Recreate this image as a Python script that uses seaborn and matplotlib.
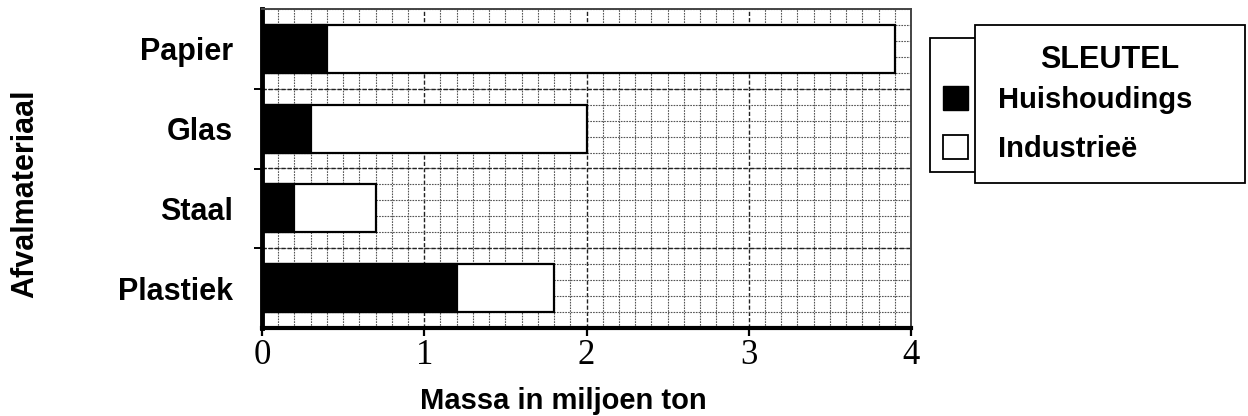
import numpy as np
import pandas as pd
import matplotlib
matplotlib.use("Agg")
import matplotlib.pyplot as plt
from matplotlib.patches import Patch, Rectangle
import seaborn as sns

categories = ['Papier', 'Glas', 'Staal', 'Plastiek']
huishoudings = [0.4, 0.3, 0.2, 1.2]
industriee = [3.5, 1.7, 0.5, 0.6]

df = pd.DataFrame({'materiaal': categories,
                   'huis': huishoudings,
                   'industrie': industriee})
df['totaal'] = df['huis'] + df['industrie']

sns.set_style('white')
plt.rcParams['font.family'] = ['Liberation Sans', 'DejaVu Sans']
plt.rcParams['text.color'] = 'black'
plt.rcParams['axes.labelcolor'] = 'black'
plt.rcParams['xtick.color'] = 'black'
plt.rcParams['ytick.color'] = 'black'

fig = plt.figure(figsize=(12.48, 4.16), dpi=100)
ax = fig.add_axes([262 / 1248, 1 - 328 / 416, 649 / 1248, 319 / 416])

# industry part drawn as full bar, household part on top
sns.barplot(data=df, x='totaal', y='materiaal', orient='h', color='white',
            edgecolor='black', linewidth=1.6, width=0.6, ax=ax, zorder=3)
sns.barplot(data=df, x='huis', y='materiaal', orient='h', color='black',
            edgecolor='black', linewidth=1.6, width=0.6, ax=ax, zorder=4)

n = len(categories)
ax.set_xlim(0, 4)
ax.set_ylim(n - 0.5, -0.5)

# graph paper grid
ax.set_xticks(np.arange(0, 5, 1))
ax.set_xticks(np.arange(0, 4.001, 0.1), minor=True)
ax.set_yticks(np.arange(-0.5, n - 0.5 + 0.001, 0.2), minor=True)
ax.grid(which='minor', axis='both', color='#555555', lw=0.8, ls=(0, (1.5, 1)), zorder=0)
ax.grid(which='major', axis='x', color='#222222', lw=1.0, ls=(0, (3, 1.5)), zorder=1)
for b in np.arange(0.5, n - 0.5, 1):
    ax.axhline(b, color='#222222', lw=1.0, ls=(0, (3, 1.5)), zorder=1)
ax.set_axisbelow(True)

for side in ['top', 'right']:
    ax.spines[side].set_color('#444444')
    ax.spines[side].set_linewidth(1.4)
    ax.spines[side].set_linestyle((0, (1.5, 1)))
ax.spines['left'].set_linewidth(3.5)
ax.spines['left'].set_color('black')
ax.spines['bottom'].set_linewidth(3.0)
ax.spines['bottom'].set_color('black')

ax.tick_params(axis='y', which='both', length=0, pad=21, labelsize=22)
for lab in ax.get_yticklabels():
    lab.set_fontweight('bold')
ax.tick_params(axis='x', which='major', length=6, width=1.6, direction='out',
               pad=2, labelsize=25, bottom=True)
ax.tick_params(axis='x', which='minor', length=0)
ax.set_xticklabels([str(v) for v in range(5)], family='Liberation Serif')

# boundary tick marks on the category axis
sec = ax.secondary_yaxis('left')
sec.set_yticks(np.arange(0.5, n - 0.5, 1))
sec.set_yticklabels([])
sec.tick_params(length=6, width=1.4, direction='out')
sec.spines['left'].set_visible(False)

ax.set_xlabel('Massa in miljoen ton', fontsize=21, fontweight='bold')
ax.xaxis.set_label_coords(0.465, -0.185)
ax.set_ylabel('Afvalmateriaal', fontsize=22, fontweight='bold')
ax.yaxis.set_label_coords(-0.342, 0.42)

# key
fig.patches.append(Rectangle((930 / 1248, 1 - 172 / 416), 50 / 1248, 134 / 416,
                             transform=fig.transFigure, facecolor='white',
                             edgecolor='black', lw=1.3, zorder=1))
fig.patches.append(Rectangle((975 / 1248, 1 - 183 / 416), 270 / 1248, 158 / 416,
                             transform=fig.transFigure, facecolor='white',
                             edgecolor='black', lw=1.3, zorder=2))
fig.text(1110 / 1248, 1 - 60 / 416, 'SLEUTEL', fontsize=22, fontweight='bold',
         ha='center', va='center', zorder=5)
handles = [Patch(facecolor='black', edgecolor='black', label='Huishoudings'),
           Patch(facecolor='white', edgecolor='black', lw=1.3, label='Industrieë')]
leg = fig.legend(handles=handles, loc='upper left',
                 bbox_to_anchor=(943 / 1248, 1 - 86 / 416), frameon=False,
                 borderpad=0, borderaxespad=0,
                 handlelength=0.85, handleheight=0.85, handletextpad=1.05,
                 labelspacing=0.72, prop={'size': 21, 'weight': 'bold'})
leg.set_zorder(6)

fig.savefig('out.png', dpi=100)
